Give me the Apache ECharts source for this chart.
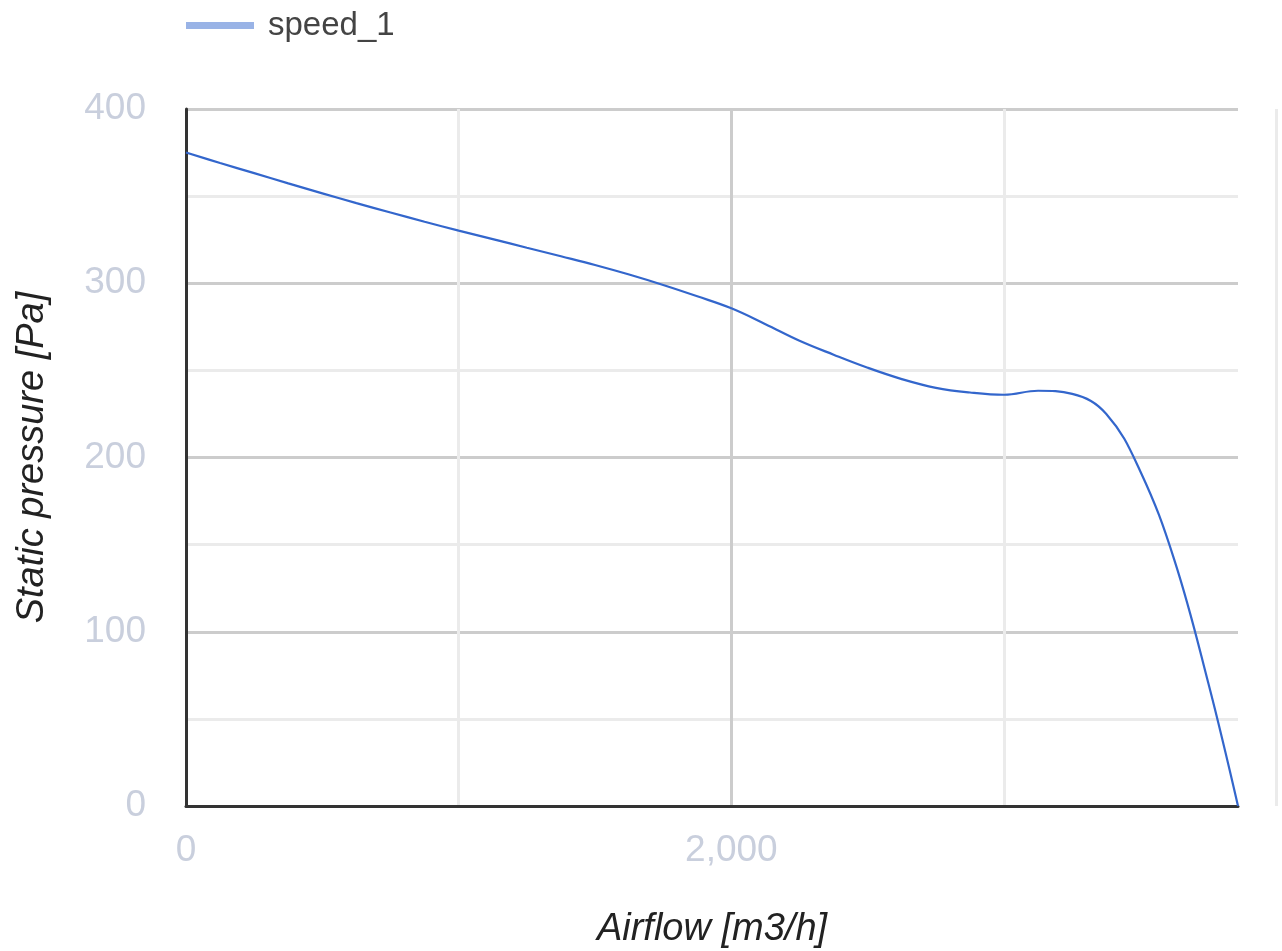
<!DOCTYPE html>
<html>
<head>
<meta charset="utf-8">
<script src="https://cdn.jsdelivr.net/npm/echarts@6/dist/echarts.min.js"></script>
<style>
  html, body { margin: 0; padding: 0; background: #fff; }
  #chart { width: 1282px; height: 951px; }
</style>
</head>
<body>
<div id="chart"></div>
<script>
// fan curve
var seriesName = 'speed_1';
var airflow = [0, 125, 250, 375, 500, 625, 750, 875, 1000, 1125, 1250, 1375, 1500, 1625,
  1750, 1875, 2000, 2125, 2250, 2375, 2500, 2625, 2750, 2875, 3000, 3125, 3250, 3375,
  3500, 3625, 3750, 3858];
var pressure = [375, 369, 363.2, 357.3, 351.6, 346, 340.6, 335.3, 330.2, 325.3, 320.4, 315.5,
  310.5, 305, 299, 292.5, 285.6, 276.5, 267, 259, 251.5, 245, 240, 237.3, 236, 238.3,
  236.5, 225, 192, 141, 70, 0];
var xMax = 3858;
var yMax = 400;

var points = airflow.map(function (x, i) { return [x, pressure[i]]; });

var labelFont = 'Arial, "Liberation Sans", sans-serif';
var chart = echarts.init(document.getElementById('chart'));

chart.setOption({
  animation: false,
  backgroundColor: '#fff',
  legend: {
    left: 181,
    top: 4,
    icon: 'rect',
    itemWidth: 68,
    itemHeight: 7,
    itemStyle: { color: '#99b3e6' },
    textStyle: { color: '#444', fontSize: 33, fontFamily: labelFont, padding: [0, 0, 0, 9] },
    data: [seriesName]
  },
  grid: [
    { left: 186, right: 44, top: 109, bottom: 145, outerBoundsMode: 'none' },
    { left: 186, right: 6, top: 109, bottom: 145, outerBoundsMode: 'none' }
  ],
  xAxis: [
    {
      type: 'value',
      min: 0,
      max: xMax,
      interval: 1000,
      name: 'Airflow [m3/h]',
      nameLocation: 'middle',
      nameGap: 104,
      nameTextStyle: { color: '#222', fontSize: 38, fontStyle: 'italic', fontFamily: labelFont },
      axisLine: { show: true, onZero: false, lineStyle: { color: '#333', width: 3 } },
      axisTick: { show: false },
      axisLabel: {
        margin: 26,
        color: '#c9cfdd',
        fontSize: 37,
        fontFamily: labelFont,
        showMaxLabel: false,
        formatter: function (v) { return v % 2000 === 0 ? v.toLocaleString('en-US') : ''; }
      },
      splitLine: { show: true, showMaxLine: false, lineStyle: { color: ['#cccccc', '#ebebeb'], width: 3 } },
      z: 3
    },
    {
      type: 'value',
      gridIndex: 1,
      min: 0,
      max: 4000,
      interval: 4000,
      axisLine: { show: false },
      axisTick: { show: false },
      axisLabel: { show: false },
      splitLine: { show: true, showMinLine: false, lineStyle: { color: '#ebebeb', width: 3 } },
      z: 1
    }
  ],
  yAxis: [
    {
      type: 'value',
      min: 0,
      max: yMax,
      interval: 50,
      name: 'Static pressure [Pa]',
      nameLocation: 'middle',
      nameRotate: 90,
      nameGap: 135,
      nameTextStyle: { color: '#222', fontSize: 38, fontStyle: 'italic', fontFamily: labelFont },
      axisLine: { show: true, lineStyle: { color: '#333', width: 3 } },
      axisTick: { show: false },
      axisLabel: {
        margin: 40,
        color: '#c9cfdd',
        fontSize: 37,
        fontFamily: labelFont,
        formatter: function (v) { return v % 100 === 0 ? String(v) : ''; }
      },
      splitLine: { show: true, lineStyle: { color: ['#cccccc', '#ebebeb'], width: 3 } },
      z: 3
    },
    {
      type: 'value',
      gridIndex: 1,
      min: 0,
      max: yMax,
      show: false,
      splitLine: { show: false }
    }
  ],
  series: [
    {
      name: seriesName,
      type: 'line',
      xAxisIndex: 0,
      yAxisIndex: 0,
      data: points,
      smooth: 0.4,
      showSymbol: false,
      symbol: 'none',
      lineStyle: { color: '#3366cc', width: 2.2 },
      itemStyle: { color: '#3366cc' },
      z: 5
    }
  ]
});
</script>
</body>
</html>
